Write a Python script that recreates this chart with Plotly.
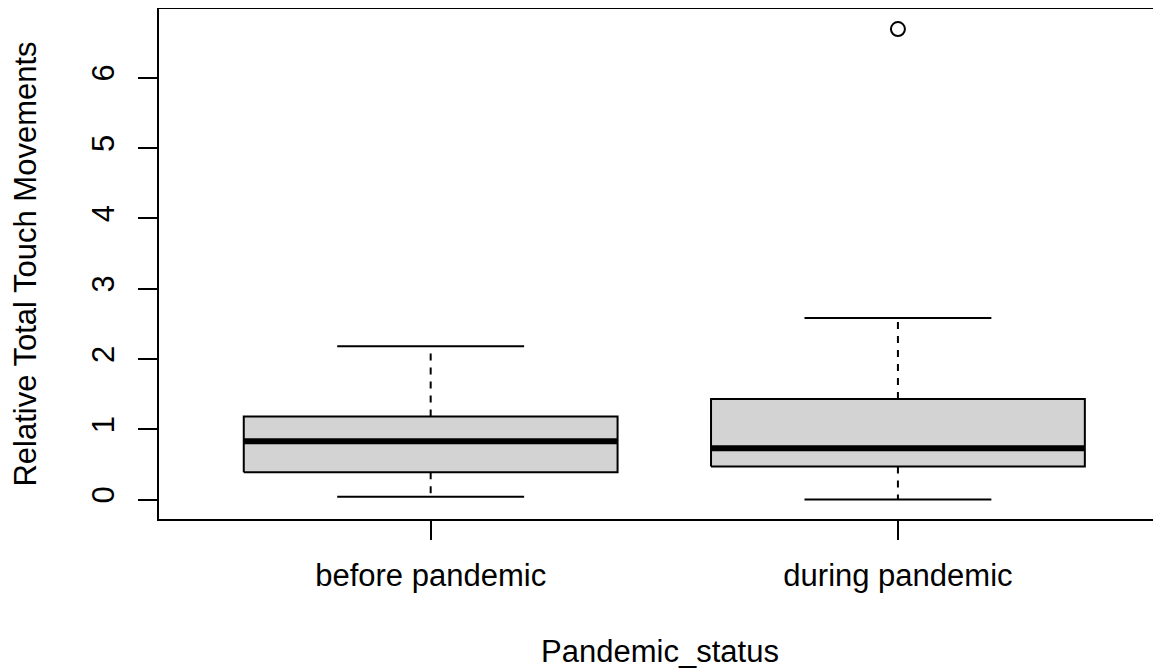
import plotly.graph_objects as go

categories = ["before pandemic", "during pandemic"]
lower_whisker = [0.04, 0.0]
q1 = [0.39, 0.47]
median = [0.83, 0.73]
q3 = [1.18, 1.43]
upper_whisker = [2.18, 2.58]
outliers = [[], [6.69]]

y_ticks = [0, 1, 2, 3, 4, 5, 6]

FONT = "Liberation Sans, Arial, sans-serif"
FS = 31
BOX_HALF = 0.4
STAPLE_HALF = 0.2

fig = go.Figure()

for i, cat in enumerate(categories):
    x = i + 1
    # whiskers (dashed)
    fig.add_trace(go.Scatter(x=[x, x], y=[q3[i], upper_whisker[i]], mode="lines",
                             line=dict(color="black", width=2, dash="7px,7px"),
                             showlegend=False, hoverinfo="skip"))
    fig.add_trace(go.Scatter(x=[x, x], y=[q1[i], lower_whisker[i]], mode="lines",
                             line=dict(color="black", width=2, dash="7px,7px"),
                             showlegend=False, hoverinfo="skip"))
    # staples
    fig.add_trace(go.Scatter(x=[x - STAPLE_HALF, x + STAPLE_HALF], y=[upper_whisker[i]] * 2,
                             mode="lines", line=dict(color="black", width=2),
                             showlegend=False, hoverinfo="skip"))
    fig.add_trace(go.Scatter(x=[x - STAPLE_HALF, x + STAPLE_HALF], y=[lower_whisker[i]] * 2,
                             mode="lines", line=dict(color="black", width=2),
                             showlegend=False, hoverinfo="skip"))
    # box
    fig.add_trace(go.Scatter(x=[x - BOX_HALF, x + BOX_HALF, x + BOX_HALF, x - BOX_HALF, x - BOX_HALF],
                             y=[q1[i], q1[i], q3[i], q3[i], q1[i]],
                             mode="lines", fill="toself", fillcolor="#D3D3D3",
                             line=dict(color="black", width=2),
                             showlegend=False, hoverinfo="skip"))
    # median
    fig.add_trace(go.Scatter(x=[x - BOX_HALF, x + BOX_HALF], y=[median[i]] * 2,
                             mode="lines", line=dict(color="black", width=6),
                             showlegend=False, hoverinfo="skip"))
    # outliers
    if outliers[i]:
        fig.add_trace(go.Scatter(x=[x] * len(outliers[i]), y=outliers[i], mode="markers",
                                 marker=dict(symbol="circle-open", size=14,
                                             color="black", line=dict(width=2)),
                                 showlegend=False, hoverinfo="skip"))

# page body has an 8px margin; figure sized so it ends exactly at the window edge
fig.update_layout(
    width=1153, height=662,
    margin=dict(l=151, r=0, t=1, b=151),
    plot_bgcolor="white", paper_bgcolor="white",
    font=dict(family=FONT, size=FS, color="black"),
    xaxis=dict(
        range=[0.4186, 2.563],
        tickmode="array", tickvals=[1, 2], ticktext=categories,
        ticks="outside", ticklen=19, tickwidth=2, tickcolor="black",
        ticklabelstandoff=9,
        showline=True, linecolor="black", linewidth=2, mirror=True,
        showgrid=False, zeroline=False,
        title=dict(text="Pandemic_status", font=dict(size=FS), standoff=48),
        tickfont=dict(size=FS),
    ),
    yaxis=dict(
        range=[-0.276, 6.975],
        tickmode="array", tickvals=y_ticks,
        ticks="outside", ticklen=19, tickwidth=2, tickcolor="black",
        tickangle=-90, ticklabelstandoff=12,
        showline=True, linecolor="black", linewidth=2, mirror=False,
        showgrid=False, zeroline=False,
        title=dict(text="Relative Total Touch Movements", font=dict(size=FS), standoff=41),
        tickfont=dict(size=FS),
    ),
)

fig.write_html("out.html")
